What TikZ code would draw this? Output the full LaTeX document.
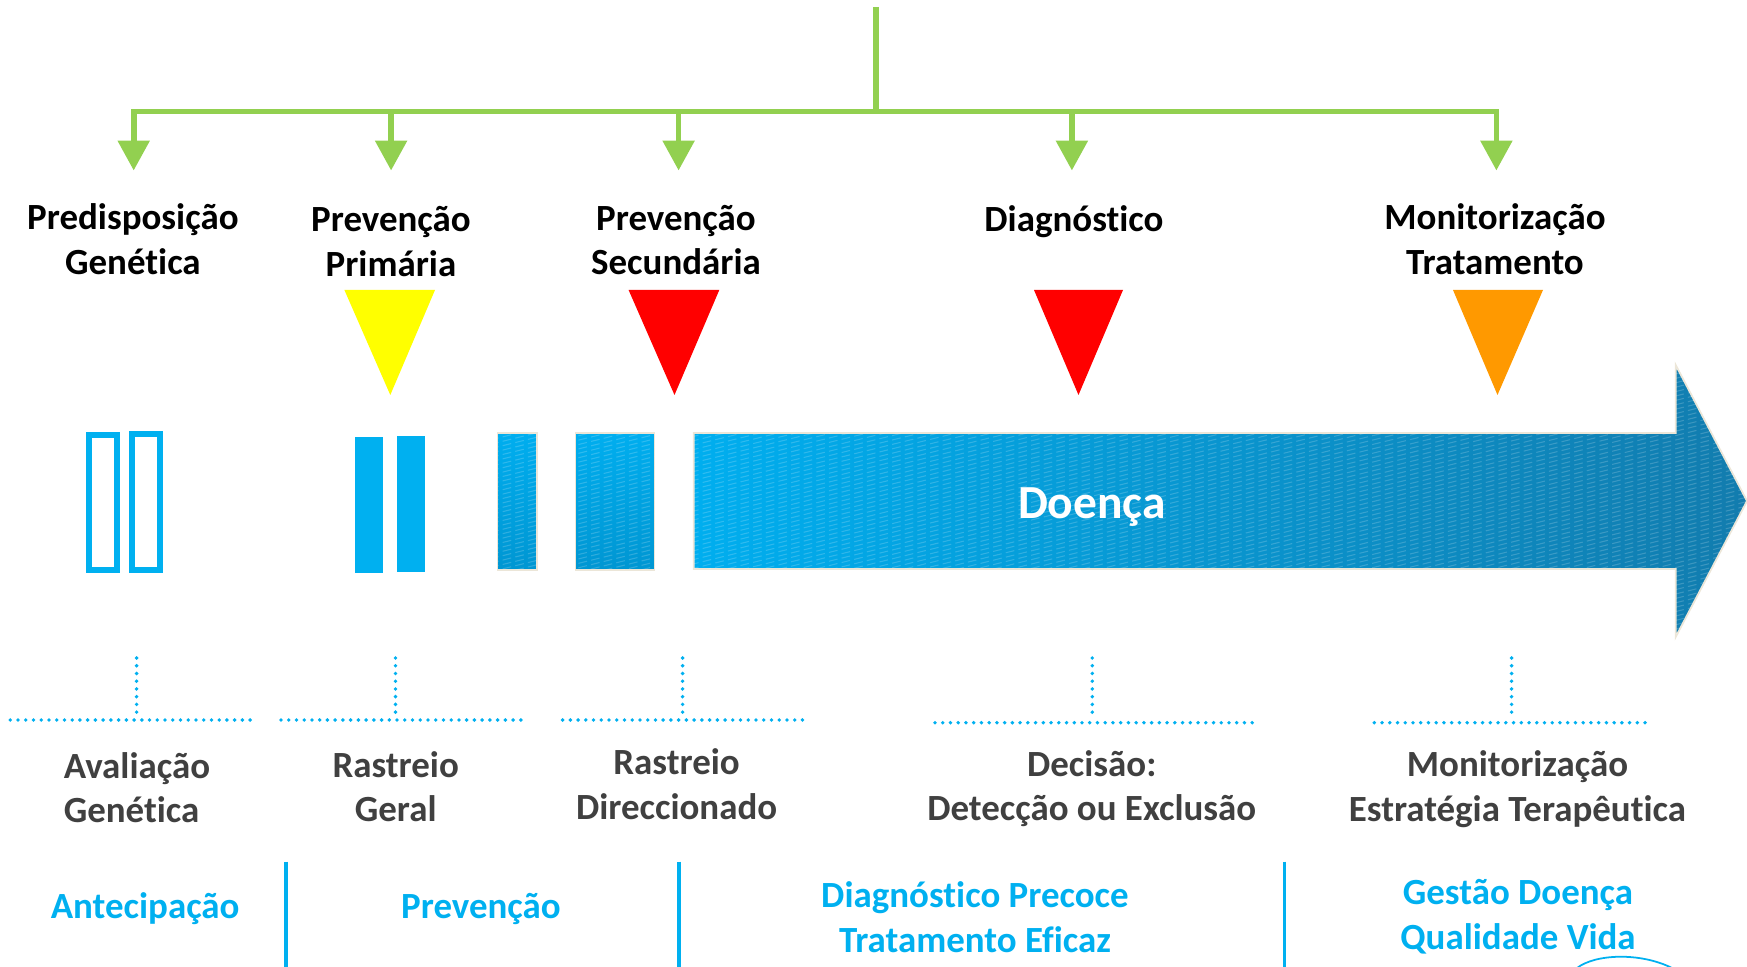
\documentclass[tikz,border=0pt]{standalone}
\usepackage{fontspec}
\setmainfont{Carlito}[Ligatures={NoCommon}]
\usetikzlibrary{arrows.meta}
\definecolor{grn}{HTML}{92D050}
\definecolor{cyn}{HTML}{00B0F0}
\definecolor{ylw}{HTML}{FFFF00}
\definecolor{rd}{HTML}{FF0000}
\definecolor{org}{HTML}{FF9900}
\definecolor{gry}{HTML}{404040}
\definecolor{arA}{HTML}{00AEEF}
\definecolor{arB}{HTML}{0096D2}
\definecolor{arC}{HTML}{127CAE}
\definecolor{rim}{HTML}{ECE6D8}
\begin{document}
\begin{tikzpicture}[x=0.01cm,y=-0.01cm,
  lbl/.style={font=\bfseries\fontsize{10.5}{12.7}\selectfont, align=center, inner sep=0pt},
  toplbl/.style={lbl, text=black},
  midlbl/.style={lbl, text=gry},
  botlbl/.style={lbl, text=cyn},
  gline/.style={draw=grn, line width=1.6pt},
  garrow/.style={gline, -{Triangle[width=8.8pt,length=8.5pt]}},
  dotline/.style={draw=cyn, line width=1.1pt, line cap=round, dash pattern=on 0pt off 2.2pt},
  sepline/.style={draw=cyn, line width=1pt},
  hollow/.style={draw=cyn, line width=1.65pt},
  solidbar/.style={fill=cyn},
  texbar/.style={top color=arA, bottom color=arB, draw=rim, line width=0.5pt},
  texture/.style={draw=white, opacity=0.18, line width=0.3pt, dash pattern=on 2.5pt off 1.2pt},
]
\useasboundingbox (0,0) rectangle (1747,967);

% green tree
\coordinate (root) at (875.8,7);
\coordinate (hub) at (875.8,111.4);
\coordinate (d1) at (133.7,170.5);
\coordinate (d2) at (391.1,170.5);
\coordinate (d3) at (678.6,170.5);
\coordinate (d4) at (1071.9,170.5);
\coordinate (d5) at (1496.4,170.5);
\draw[gline] (root) -- (hub);
\foreach \d in {d1,d2,d3,d4,d5} \draw[garrow] (hub) -| (\d);

% top labels
\node[toplbl] (pg) at (132.9,239.5) {Predisposição\\Genética};
\node[toplbl] (pp) at (391,241.8) {Prevenção\\Primária};
\node[toplbl] (ps) at (676,240) {Prevenção\\Secundária};
\node[toplbl] (dg) at (1074,221.7) {Diagnóstico};
\node[toplbl] (mt) at (1495,239) {Monitorização\\Tratamento};

% triangles
\fill[ylw] (344.4,290) -- (435,290) -- (390.3,395) -- cycle;
\fill[rd] (628.6,290) -- (719.3,290) -- (674.5,395) -- cycle;
\fill[rd] (1034,290) -- (1123,290) -- (1078.5,395) -- cycle;
\fill[org] (1453,290) -- (1543,290) -- (1497.5,395) -- cycle;

% bars
\draw[hollow] (88.9,434.9) rectangle (116.7,570.1);
\draw[hollow] (131.6,433.9) rectangle (159.8,570.1);
\fill[solidbar] (355,437) rectangle (383.3,573);
\fill[solidbar] (397,436) rectangle (425.4,572);
\shade[texbar] (497.6,433.3) rectangle (537.3,570);
\shade[texbar] (575.6,433.3) rectangle (654.5,570);
\begin{scope}
  \clip (497.6,433.3) rectangle (537.3,570) (575.6,433.3) rectangle (654.5,570);
  \foreach \k in {0,...,50} \draw[texture] (490,{440+4.4*\k}) -- (660,{440+4.4*\k-42});
\end{scope}

% big arrow
\shade[left color=arA, right color=arC, draw=rim, line width=0.5pt]
  (693.8,433) -- (1675.7,433) -- (1675.7,365) -- (1747,501) -- (1675.7,637)
  -- (1675.7,569) -- (693.8,569) -- cycle;
\begin{scope}
  \clip (693.8,433) -- (1675.7,433) -- (1675.7,365) -- (1747,501) -- (1675.7,637)
  -- (1675.7,569) -- (693.8,569) -- cycle;
  \foreach \k in {0,...,125} \draw[texture] (690,{380+4.4*\k}) -- (1750,{380+4.4*\k-262});
\end{scope}
\node[font=\bfseries\fontsize{13.5}{16}\selectfont, text=white, inner sep=0pt] (doenca) at (1092,507) {Doença};

% dotted brackets
\draw[dotline] (10.3,720) -- (252.6,720);
\draw[dotline] (136.6,658) -- (136.6,714);
\draw[dotline] (281,720) -- (522.4,720);
\draw[dotline] (395.5,658) -- (395.5,714);
\draw[dotline] (562.6,720) -- (803.7,720);
\draw[dotline] (682.6,658) -- (682.6,714);
\draw[dotline] (935,722.7) -- (1253.9,722.7);
\draw[dotline] (1092.3,658) -- (1092.3,716);
\draw[dotline] (1374.3,722.7) -- (1646.6,722.7);
\draw[dotline] (1511.6,658) -- (1511.6,716);

% middle labels
\node[midlbl, align=left, anchor=west] (ag) at (63.1,787.8) {Avaliação\\Genética};
\node[midlbl] (rg) at (395.7,786.7) {Rastreio\\Geral};
\node[midlbl] (rdir) at (676.6,784.4) {Rastreio\\Direccionado};
\node[midlbl] (de) at (1091.8,788.7) {Decisão:\\Detecção ou Exclusão};
\node[midlbl] (me) at (1517.5,788.9) {Monitorização\\Estratégia Terapêutica};

% separators
\draw[sepline] (285.9,861.7) -- (285.9,967);
\draw[sepline] (679.1,861.7) -- (679.1,967);
\draw[sepline] (1284.4,861.7) -- (1284.4,967);

% bottom labels
\node[botlbl] (an) at (145.2,909.1) {Antecipação};
\node[botlbl] (pv) at (481,909.1) {Prevenção};
\node[botlbl] (dp) at (975,917) {Diagnóstico Precoce\\Tratamento Eficaz};
\node[botlbl] (gd) at (1518,917) {Gestão Doença\\Qualidade Vida};

% small curve bottom right
\draw[cyn, line width=0.5pt] (1577,968) .. controls (1595,954) and (1640,952) .. (1672,968);
\end{tikzpicture}
\end{document}
